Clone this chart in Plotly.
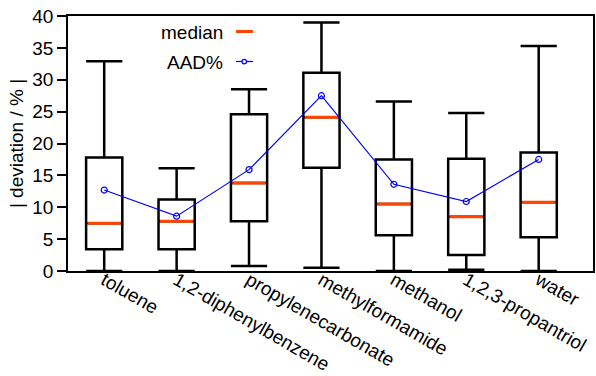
import plotly.graph_objects as go

# Solvents and their deviation statistics (%)
solvents = ["toluene", "1,2-diphenylbenzene", "propylenecarbonate",
            "methylformamide", "methanol", "1,2,3-propantriol", "water"]
lower_whisker = [0.0, 0.0, 0.8, 0.5, 0.0, 0.2, 0.0]
q1_values = [3.4, 3.4, 7.8, 16.2, 5.6, 2.5, 5.3]
median_values = [7.5, 7.8, 13.8, 24.1, 10.5, 8.5, 10.8]
q3_values = [17.8, 11.2, 24.6, 31.1, 17.5, 17.6, 18.6]
upper_whisker = [32.9, 16.1, 28.5, 39.0, 26.6, 24.8, 35.3]
aad_values = [12.7, 8.6, 15.9, 27.5, 13.6, 10.9, 17.5]
y_ticks = [0, 5, 10, 15, 20, 25, 30, 35, 40]

positions = list(range(len(solvents)))
box_width = 0.5
orange = "#FF4500"
blue = "#0000FF"
font = dict(family="Liberation Sans, Arial, sans-serif", size=19, color="black")

fig = go.Figure()

fig.add_trace(go.Box(
    x=positions,
    q1=q1_values, median=median_values, q3=q3_values,
    lowerfence=lower_whisker, upperfence=upper_whisker,
    width=box_width, whiskerwidth=1,
    line=dict(color="black", width=2.5),
    fillcolor="rgba(255,255,255,0)",
    boxpoints=False, showlegend=False, hoverinfo="skip",
))

# Median bars drawn over the boxes
mx, my = [], []
for p, m in zip(positions, median_values):
    mx += [p - box_width / 2 + 0.02, p + box_width / 2 - 0.02, None]
    my += [m, m, None]
fig.add_trace(go.Scatter(x=mx, y=my, mode="lines",
                         line=dict(color=orange, width=3),
                         showlegend=False, hoverinfo="skip"))

# AAD% line
fig.add_trace(go.Scatter(x=positions, y=aad_values, mode="lines+markers",
                         line=dict(color=blue, width=1.2),
                         marker=dict(symbol="circle-open", size=6, color=blue,
                                     line=dict(width=1.2, color=blue)),
                         showlegend=False, hoverinfo="skip"))

W, H = 596, 376
ml, mr, mt, mb = 68, 3, 16, 105
pw, ph = W - ml - mr, H - mt - mb


def px_x(v):
    return (v - ml) / pw


def px_y(v):
    return (H - mb - v) / ph


# Legend entries with symbol placed after the label
annotations = [
    dict(text="median", x=px_x(225), y=px_y(32), xref="paper", yref="paper",
         xanchor="right", yanchor="middle", showarrow=False, font=font),
    dict(text="AAD%", x=px_x(225), y=px_y(62), xref="paper", yref="paper",
         xanchor="right", yanchor="middle", showarrow=False, font=font),
]
shapes = [
    dict(type="line", xref="paper", yref="paper",
         x0=px_x(236), x1=px_x(253), y0=px_y(31.5), y1=px_y(31.5),
         line=dict(color=orange, width=3)),
    dict(type="line", xref="paper", yref="paper",
         x0=px_x(236), x1=px_x(253), y0=px_y(61.5), y1=px_y(61.5),
         line=dict(color=blue, width=1.2)),
    dict(type="circle", xref="paper", yref="paper",
         x0=px_x(242), x1=px_x(246.5), y0=px_y(59.3), y1=px_y(63.8),
         line=dict(color=blue, width=1.2), fillcolor="white"),
]

fig.update_layout(
    width=W, height=H,
    margin=dict(l=ml, r=mr, t=mt, b=mb, pad=0),
    paper_bgcolor="white", plot_bgcolor="white",
    font=font,
    annotations=annotations, shapes=shapes,
    xaxis=dict(
        range=[-0.5, 6.75], tickmode="array", tickvals=positions,
        ticktext=solvents, tickangle=30, ticks="", showgrid=False,
        zeroline=False, showline=True, linecolor="black", linewidth=1.5,
        mirror=True, tickfont=font, automargin=False,
        ticklabelstandoff=-11,
    ),
    yaxis=dict(
        range=[0, 40], tickmode="array", tickvals=y_ticks,
        ticks="outside", ticklen=9, tickwidth=1.5, tickcolor="black",
        showgrid=False, zeroline=False, showline=True, linecolor="black",
        linewidth=1.5, mirror=True, tickfont=font, automargin=False,
        title=dict(text="| deviation / % |", font=font, standoff=4),
    ),
)

fig.write_html("out.html")
